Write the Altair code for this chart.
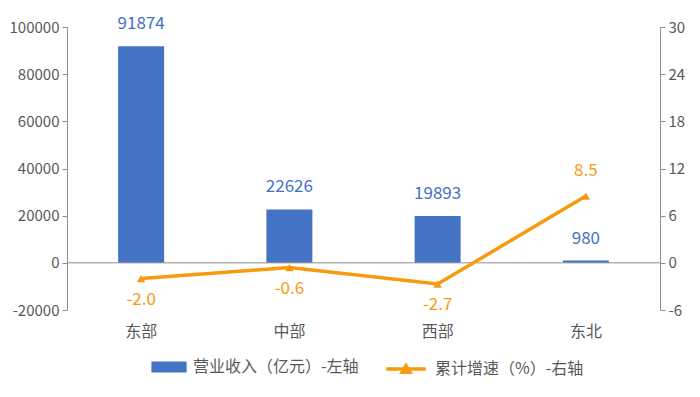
import altair as alt
import pandas as pd

regions = ["东部", "中部", "西部", "东北"]
revenue = [91874, 22626, 19893, 980]
growth = [-2.0, -0.6, -2.7, 8.5]
bar_name = "营业收入（亿元）-左轴"
line_name = "累计增速（%）-右轴"

BLUE = "#4472C4"
ORANGE = "#F79A0E"
GRAY = "#595959"
AXIS = "#8C8C8C"
FONT = "Noto Sans CJK SC"

df = pd.DataFrame({"region": regions, "revenue": revenue, "growth": growth})

base = alt.Chart(df)
x = alt.X("region:N", sort=regions, title=None,
          scale=alt.Scale(paddingInner=0, paddingOuter=0),
          axis=alt.Axis(domain=False, ticks=False, labelPadding=13, labelFontSize=16,
                        labelColor=GRAY, labelFont=FONT, labelAngle=0))

yl_scale = alt.Scale(domain=[-20000, 100000], nice=False, zero=False)
yr_scale = alt.Scale(domain=[-6, 30], nice=False, zero=False)

fix_minus = "replace(datum.label, '\u2212', '-')"

yl_axis = alt.Axis(values=[-20000, 0, 20000, 40000, 60000, 80000, 100000], grid=False,
                   domainColor=AXIS, tickColor=AXIS, tickSize=5, labelFontSize=15,
                   labelColor=GRAY, labelFont=FONT, labelPadding=3, format="d",
                   labelExpr=fix_minus)
yr_axis = alt.Axis(values=[-6, 0, 6, 12, 18, 24, 30], grid=False, orient="right",
                   domainColor=AXIS, tickColor=AXIS, tickSize=5, labelFontSize=15,
                   labelColor=GRAY, labelFont=FONT, labelPadding=3,
                   labelExpr=fix_minus)

bars = base.mark_bar(size=46).transform_calculate(series=f"'{bar_name}'").encode(
    x=x,
    y=alt.Y("revenue:Q", scale=yl_scale, axis=yl_axis, title=None),
    color=alt.Color("series:N", scale=alt.Scale(domain=[bar_name], range=[BLUE]),
                    legend=alt.Legend(orient="none", legendX=91, legendY=329, title=None,
                                      symbolType="M-1.6,-0.5H1.6V0.5H-1.6Z",
                                      symbolSize=484, symbolStrokeWidth=0,
                                      labelFontSize=16, labelColor=GRAY, labelFont=FONT,
                                      labelOffset=13, labelLimit=400)),
)

zero = base.mark_rule(color=AXIS, strokeWidth=1).encode(
    y=alt.datum(0, scale=yl_scale, axis=yl_axis, title=None)
).transform_filter("datum.region == '东部'")

bar_text = base.mark_text(dy=-22, fontSize=17, color=BLUE, font=FONT).encode(
    x=x,
    y=alt.Y("revenue:Q", scale=yl_scale, axis=yl_axis, title=None),
    text=alt.Text("revenue:Q", format="d"),
)

left = alt.layer(bars, zero, bar_text)

line = base.mark_line(strokeWidth=3.5, point=alt.OverlayMarkDef(shape="triangle-up", size=70, filled=True)).transform_calculate(
    series2=f"'{line_name}'").encode(
    x=x,
    y=alt.Y("growth:Q", scale=yr_scale, axis=yr_axis, title=None),
    color=alt.Color("series2:N", scale=alt.Scale(domain=[line_name], range=[ORANGE]),
                    legend=alt.Legend(orient="none", legendX=326, legendY=329, title=None,
                                      symbolType="M-1.8,0H1.8M-0.35,0.3L0,-0.3L0.35,0.3Z",
                                      symbolSize=484, symbolStrokeWidth=3.5,
                                      symbolFillColor=ORANGE,
                                      labelFontSize=16, labelColor=GRAY, labelFont=FONT,
                                      labelOffset=16, labelLimit=400)),
)

growth_label = alt.Text("glabel:N")

line_text_below = base.mark_text(dy=21, fontSize=17, color=ORANGE, font=FONT).transform_filter(
    "datum.growth < 0").transform_calculate(
    glabel="replace(format(datum.growth, '.1f'), '\u2212', '-')").encode(
    x=x,
    y=alt.Y("growth:Q", scale=yr_scale, axis=yr_axis, title=None),
    text=growth_label,
)
line_text_above = base.mark_text(dy=-25, fontSize=17, color=ORANGE, font=FONT).transform_filter(
    "datum.growth >= 0").transform_calculate(
    glabel="replace(format(datum.growth, '.1f'), '\u2212', '-')").encode(
    x=x,
    y=alt.Y("growth:Q", scale=yr_scale, axis=yr_axis, title=None),
    text=growth_label,
)

right = alt.layer(line, line_text_below, line_text_above)

chart = alt.layer(left, right).resolve_scale(y="independent", color="independent").properties(
    width=593, height=283,
    padding={"left": 1, "top": 7, "right": 5, "bottom": 5},
    background="white",
).configure_view(stroke=None)

chart.save("out.html", embed_options={"renderer": "svg", "actions": False})
